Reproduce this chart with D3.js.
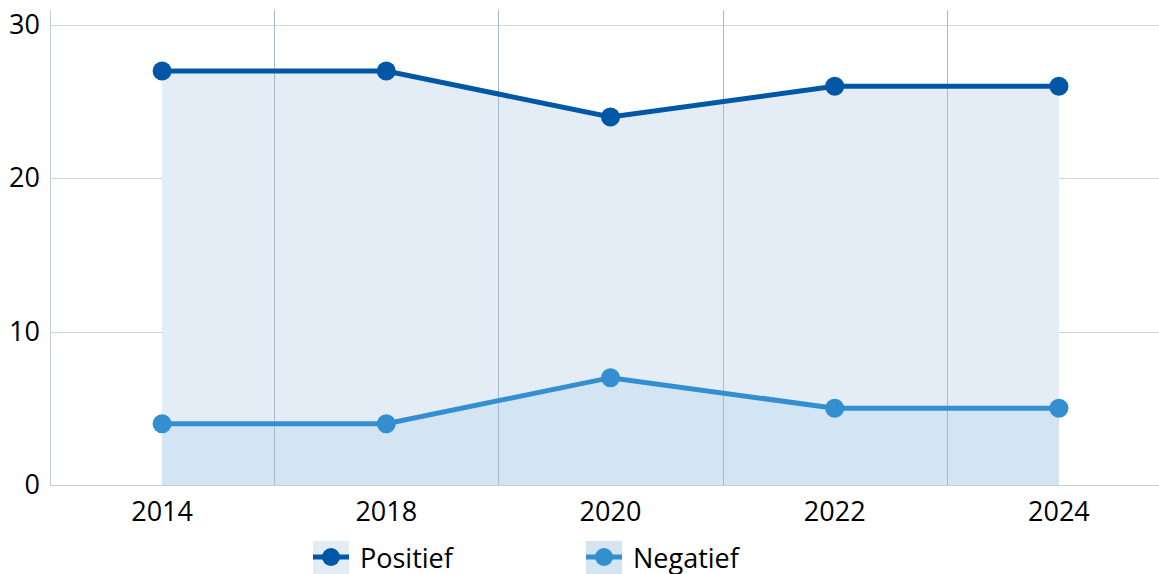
<!DOCTYPE html>
<html>
<head>
<meta charset="utf-8">
<script src="https://cdn.jsdelivr.net/npm/d3@7"></script>
<style>
  body { margin: 0; background: #fff; overflow: hidden; }
  svg text { font-family: "Open Sans", "Noto Sans", sans-serif; fill: #000; }
</style>
</head>
<body>
<div id="chart"></div>
<script>
var years = ["2014", "2018", "2020", "2022", "2024"];
var positief = [27, 27, 24, 26, 26];
var negatief = [4, 4, 7, 5, 5];
var yTicks = [0, 10, 20, 30];

var width = 1159, height = 574;
var margin = {top: 10, left: 50, bottom: 89};
var plotRight = 1171;

var svg = d3.select('#chart').append('svg')
    .attr('width', width)
    .attr('height', height);

var x = d3.scaleBand()
    .domain(years)
    .range([margin.left, plotRight]);

var y = d3.scaleLinear()
    .domain([0, 30])
    .range([height - margin.bottom, 25]);

var cx = function(d, i) { return x(years[i]) + x.bandwidth() / 2; };

// horizontal grid
svg.append('g')
  .selectAll('line')
  .data(yTicks.slice(1))
  .enter().append('line')
    .attr('x1', margin.left)
    .attr('x2', width)
    .attr('y1', function(d) { return Math.round(y(d)) + 0.5; })
    .attr('y2', function(d) { return Math.round(y(d)) + 0.5; })
    .attr('stroke', '#ccd4de')
    .attr('stroke-width', 1);

var series = [
  {name: 'Positief', values: positief, line: '#0057a5', fill: '#e4ecf6'},
  {name: 'Negatief', values: negatief, line: '#338fcf', fill: '#d3e4f2'}
];

var area = d3.area()
    .x(cx)
    .y0(y(0))
    .y1(function(d) { return y(d); });

svg.append('g')
  .selectAll('path')
  .data(series)
  .enter().append('path')
    .attr('d', function(s) { return area(s.values); })
    .attr('fill', function(s) { return s.fill; });

// vertical grid on band boundaries
svg.append('g')
  .selectAll('line')
  .data(years.slice(1))
  .enter().append('line')
    .attr('x1', function(d) { return Math.round(x(d)) + 0.5; })
    .attr('x2', function(d) { return Math.round(x(d)) + 0.5; })
    .attr('y1', margin.top)
    .attr('y2', y(0))
    .attr('stroke', '#a9bace')
    .attr('stroke-width', 1);

// axis lines
svg.append('line')
    .attr('x1', margin.left + 0.5).attr('x2', margin.left + 0.5)
    .attr('y1', margin.top).attr('y2', y(0))
    .attr('stroke', '#c3cedb');
svg.append('line')
    .attr('x1', margin.left).attr('x2', width)
    .attr('y1', Math.round(y(0)) + 0.5).attr('y2', Math.round(y(0)) + 0.5)
    .attr('stroke', '#c3cedb');

var line = d3.line()
    .x(cx)
    .y(function(d) { return y(d); });

var sg = svg.append('g')
  .selectAll('g')
  .data(series)
  .enter().append('g');

sg.append('path')
    .attr('d', function(s) { return line(s.values); })
    .attr('fill', 'none')
    .attr('stroke', function(s) { return s.line; })
    .attr('stroke-width', 5);

sg.selectAll('circle')
  .data(function(s) { return s.values.map(function(v) { return {v: v, c: s.line}; }); })
  .enter().append('circle')
    .attr('cx', function(d, i) { return cx(d, i); })
    .attr('cy', function(d) { return y(d.v); })
    .attr('r', 9.5)
    .attr('fill', function(d) { return d.c; });

// y labels
svg.append('g')
  .selectAll('text')
  .data(yTicks)
  .enter().append('text')
    .attr('x', 40)
    .attr('y', function(d) { return y(d) + 9; })
    .attr('text-anchor', 'end')
    .style('font-size', '27px')
    .text(function(d) { return d; });

// x labels
svg.append('g')
  .selectAll('text')
  .data(years)
  .enter().append('text')
    .attr('x', function(d) { return x(d) + x.bandwidth() / 2; })
    .attr('y', 521)
    .attr('text-anchor', 'middle')
    .style('font-size', '27px')
    .text(function(d) { return d; });

// legend
var legendX = [313, 586];
var lg = svg.append('g')
  .selectAll('g')
  .data(series)
  .enter().append('g')
    .attr('transform', function(s, i) { return 'translate(' + legendX[i] + ',541)'; });

lg.append('rect')
    .attr('width', 36).attr('height', 36)
    .attr('fill', function(s) { return s.fill; });
lg.append('line')
    .attr('x1', 0).attr('x2', 36)
    .attr('y1', 16).attr('y2', 16)
    .attr('stroke', function(s) { return s.line; })
    .attr('stroke-width', 5);
lg.append('circle')
    .attr('cx', 18).attr('cy', 16).attr('r', 9)
    .attr('fill', function(s) { return s.line; });
lg.append('text')
    .attr('x', 47).attr('y', 27)
    .style('font-size', '27px')
    .text(function(s) { return s.name; });
</script>
</body>
</html>
